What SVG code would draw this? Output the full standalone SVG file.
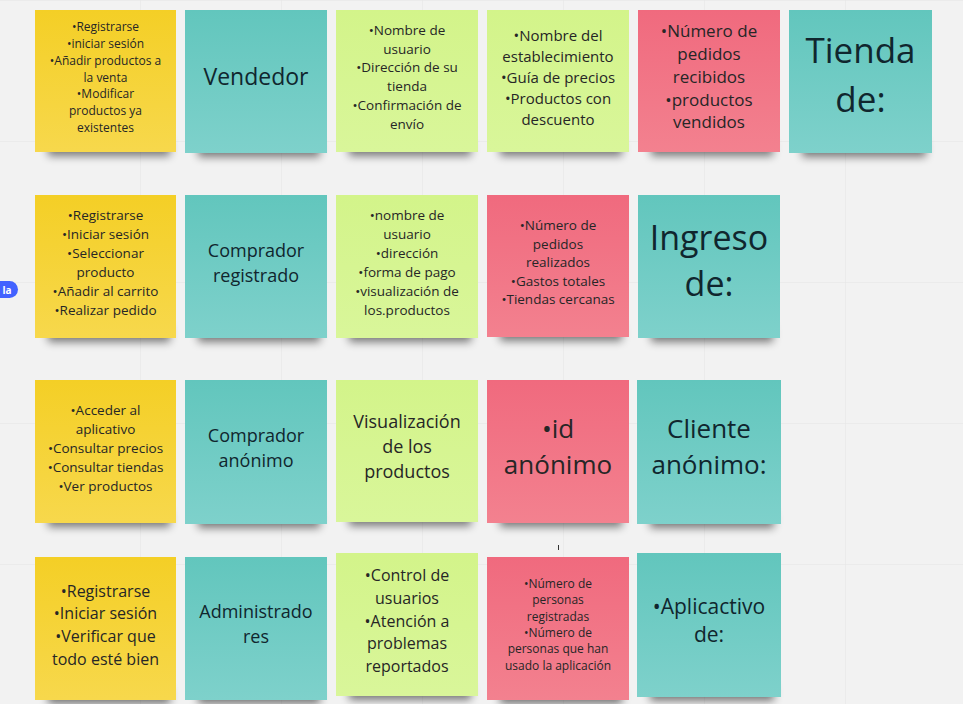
<svg xmlns="http://www.w3.org/2000/svg" width="963" height="704" viewBox="0 0 963 704">
<defs>
<linearGradient id="gy" x1="0" y1="0" x2="0" y2="1"><stop offset="0" stop-color="#f4cf26"/><stop offset="1" stop-color="#f7d84c"/></linearGradient>
<linearGradient id="gt" x1="0" y1="0" x2="0" y2="1"><stop offset="0" stop-color="#62c6bd"/><stop offset="1" stop-color="#7ed1cb"/></linearGradient>
<linearGradient id="gg" x1="0" y1="0" x2="0" y2="1"><stop offset="0" stop-color="#d3f48a"/><stop offset="1" stop-color="#d9f69a"/></linearGradient>
<linearGradient id="gp" x1="0" y1="0" x2="0" y2="1"><stop offset="0" stop-color="#f06a7e"/><stop offset="1" stop-color="#f3818f"/></linearGradient>
<filter id="blur" x="-20%" y="-100%" width="140%" height="300%"><feGaussianBlur stdDeviation="4"/></filter>
<pattern id="grid" x="0" y="0" width="141" height="141" patternUnits="userSpaceOnUse" patternTransform="translate(140 141)">
<path d="M0 0 H141 M0 0 V141" stroke="#e3e3e3" stroke-width="1" fill="none"/>
</pattern>
</defs>
<style>
.sh{fill:#000;opacity:.5;filter:url(#blur)}
.y{fill:url(#gy)}
.t{fill:url(#gt)}
.g{fill:url(#gg)}
.p{fill:url(#gp)}
text{font-family:"Open Sans","Noto Sans","Liberation Sans",sans-serif;text-anchor:middle;fill:#262626}
.tt text{fill:#10262e}
</style>
<rect width="963" height="704" fill="#f2f2f2"/>
<rect width="963" height="704" fill="url(#grid)"/>

<g id="badge">
<rect x="-20" y="281" width="38" height="17" rx="8.5" fill="#4262ff"/>
<text x="7" y="293.5" style="font-size:10px;font-weight:bold;fill:#fff">la</text>
</g>
<line x1="558.5" y1="545" x2="558.5" y2="550" stroke="#333" stroke-width="1"/>

<g id="connectors"></g>

<!-- Row 1 -->
<g id="n-r1-acciones">
<rect class="sh" x="48" y="140" width="122" height="16"/>
<rect class="y" x="35" y="10" width="141" height="142"/>
<g style="font-size:12px">
<text x="105.5" y="31">•Registrarse</text>
<text x="105.5" y="48">•iniciar sesión</text>
<text x="105.5" y="65">•Añadir productos a</text>
<text x="105.5" y="82">la venta</text>
<text x="105.5" y="98">•Modificar</text>
<text x="105.5" y="115">productos ya</text>
<text x="105.5" y="132">existentes</text>
</g>
</g>
<g id="n-vendedor" class="tt">
<rect class="sh" x="198" y="141" width="122" height="16"/>
<rect class="t" x="185" y="10" width="142" height="143"/>
<text x="256" y="85" style="font-size:23px">Vendedor</text>
</g>
<g id="n-r1-datos1">
<rect class="sh" x="349" y="140" width="122" height="16"/>
<rect class="g" x="336" y="10" width="142" height="142"/>
<g style="font-size:13.5px">
<text x="407" y="35">•Nombre de</text>
<text x="407" y="53.5">usuario</text>
<text x="407" y="72">•Dirección de su</text>
<text x="407" y="91">tienda</text>
<text x="407" y="109.5">•Confirmación de</text>
<text x="407" y="129">envío</text>
</g>
</g>
<g id="n-r1-datos2">
<rect class="sh" x="500" y="140" width="122" height="16"/>
<rect class="g" x="487" y="10" width="142" height="142"/>
<g style="font-size:15px">
<text x="558" y="40.5">•Nombre del</text>
<text x="558" y="61.5">establecimiento</text>
<text x="558" y="82.5">•Guía de precios</text>
<text x="558" y="104">•Productos con</text>
<text x="558" y="125">descuento</text>
</g>
</g>
<g id="n-r1-metricas">
<rect class="sh" x="651" y="140" width="122" height="16"/>
<rect class="p" x="638" y="10" width="142" height="142"/>
<g style="font-size:17px">
<text x="709" y="37">•Número de</text>
<text x="709" y="60">pedidos</text>
<text x="709" y="83">recibidos</text>
<text x="709" y="106">•productos</text>
<text x="709" y="128">vendidos</text>
</g>
</g>
<g id="n-tienda" class="tt">
<rect class="sh" x="802" y="141" width="124" height="16"/>
<rect class="t" x="789" y="10" width="143" height="143"/>
<g style="font-size:35px">
<text x="860.5" y="63">Tienda</text>
<text x="860.5" y="112">de:</text>
</g>
</g>

<!-- Row 2 -->
<g id="n-r2-acciones">
<rect class="sh" x="48" y="326" width="122" height="16"/>
<rect class="y" x="35" y="195" width="141" height="143"/>
<g style="font-size:13.5px">
<text x="105.5" y="220">•Registrarse</text>
<text x="105.5" y="239">•Iniciar sesión</text>
<text x="105.5" y="258">•Seleccionar</text>
<text x="105.5" y="277">producto</text>
<text x="105.5" y="296">•Añadir al carrito</text>
<text x="105.5" y="315">•Realizar pedido</text>
</g>
</g>
<g id="n-comprador-registrado" class="tt">
<rect class="sh" x="198" y="326" width="122" height="16"/>
<rect class="t" x="185" y="195" width="142" height="143"/>
<g style="font-size:18px">
<text x="256" y="257">Comprador</text>
<text x="256" y="282">registrado</text>
</g>
</g>
<g id="n-r2-datos">
<rect class="sh" x="349" y="326" width="122" height="16"/>
<rect class="g" x="336" y="195" width="142" height="143"/>
<g style="font-size:13.5px">
<text x="407" y="220">•nombre de</text>
<text x="407" y="239">usuario</text>
<text x="407" y="258">•dirección</text>
<text x="407" y="277">•forma de pago</text>
<text x="407" y="296">•visualización de</text>
<text x="407" y="315">los.productos</text>
</g>
</g>
<g id="n-r2-metricas">
<rect class="sh" x="500" y="325" width="122" height="16"/>
<rect class="p" x="487" y="195" width="142" height="142"/>
<g style="font-size:13.5px">
<text x="558" y="230">•Número de</text>
<text x="558" y="248.5">pedidos</text>
<text x="558" y="267">realizados</text>
<text x="558" y="285.5">•Gastos totales</text>
<text x="558" y="304">•Tiendas cercanas</text>
</g>
</g>
<g id="n-ingreso" class="tt">
<rect class="sh" x="651" y="326" width="122" height="16"/>
<rect class="t" x="638" y="195" width="142" height="143"/>
<g style="font-size:34px">
<text x="709" y="250">Ingreso</text>
<text x="709" y="296">de:</text>
</g>
</g>

<!-- Row 3 -->
<g id="n-r3-acciones">
<rect class="sh" x="48" y="511" width="122" height="16"/>
<rect class="y" x="35" y="380" width="141" height="143"/>
<g style="font-size:13.5px">
<text x="105.5" y="415">•Acceder al</text>
<text x="105.5" y="434">aplicativo</text>
<text x="105.5" y="453">•Consultar precios</text>
<text x="105.5" y="472">•Consultar tiendas</text>
<text x="105.5" y="491">•Ver productos</text>
</g>
</g>
<g id="n-comprador-anonimo" class="tt">
<rect class="sh" x="198" y="512" width="122" height="16"/>
<rect class="t" x="185" y="380" width="142" height="144"/>
<g style="font-size:18px">
<text x="256" y="442">Comprador</text>
<text x="256" y="467">anónimo</text>
</g>
</g>
<g id="n-r3-datos">
<rect class="sh" x="349" y="510" width="122" height="16"/>
<rect class="g" x="336" y="380" width="142" height="142"/>
<g style="font-size:18px">
<text x="407" y="428">Visualización</text>
<text x="407" y="453">de los</text>
<text x="407" y="478">productos</text>
</g>
</g>
<g id="n-r3-metricas">
<rect class="sh" x="500" y="511" width="122" height="16"/>
<rect class="p" x="487" y="380" width="142" height="143"/>
<g style="font-size:26px">
<text x="558" y="438">•id</text>
<text x="558" y="474">anónimo</text>
</g>
</g>
<g id="n-cliente-anonimo" class="tt">
<rect class="sh" x="650" y="512" width="124" height="16"/>
<rect class="t" x="637" y="380" width="144" height="144"/>
<g style="font-size:26px">
<text x="709" y="438">Cliente</text>
<text x="709" y="474">anónimo:</text>
</g>
</g>

<!-- Row 4 -->
<g id="n-r4-acciones">
<rect class="sh" x="48" y="688" width="122" height="16"/>
<rect class="y" x="35" y="557" width="141" height="143"/>
<g style="font-size:16px">
<text x="105.5" y="597">•Registrarse</text>
<text x="105.5" y="619">•Iniciar sesión</text>
<text x="105.5" y="642">•Verificar que</text>
<text x="105.5" y="665">todo esté bien</text>
</g>
</g>
<g id="n-administradores" class="tt">
<rect class="sh" x="198" y="688" width="122" height="16"/>
<rect class="t" x="185" y="557" width="142" height="143"/>
<g style="font-size:18px">
<text x="256" y="618">Administrado</text>
<text x="256" y="643">res</text>
</g>
</g>
<g id="n-r4-datos">
<rect class="sh" x="349" y="684" width="122" height="16"/>
<rect class="g" x="336" y="553" width="142" height="143"/>
<g style="font-size:16px">
<text x="407" y="581">•Control de</text>
<text x="407" y="603.5">usuarios</text>
<text x="407" y="626.5">•Atención a</text>
<text x="407" y="649">problemas</text>
<text x="407" y="672">reportados</text>
</g>
</g>
<g id="n-r4-metricas">
<rect class="sh" x="500" y="688" width="122" height="16"/>
<rect class="p" x="487" y="557" width="142" height="143"/>
<g style="font-size:12px">
<text x="558" y="588">•Número de</text>
<text x="558" y="604">personas</text>
<text x="558" y="620.5">registradas</text>
<text x="558" y="637">•Número de</text>
<text x="558" y="653">personas que han</text>
<text x="558" y="669.5">usado la aplicación</text>
</g>
</g>
<g id="n-aplicactivo" class="tt">
<rect class="sh" x="650" y="685" width="124" height="16"/>
<rect class="t" x="637" y="553" width="144" height="144"/>
<g style="font-size:21px">
<text x="709" y="614">•Aplicactivo</text>
<text x="709" y="642">de:</text>
</g>
</g>
</svg>
